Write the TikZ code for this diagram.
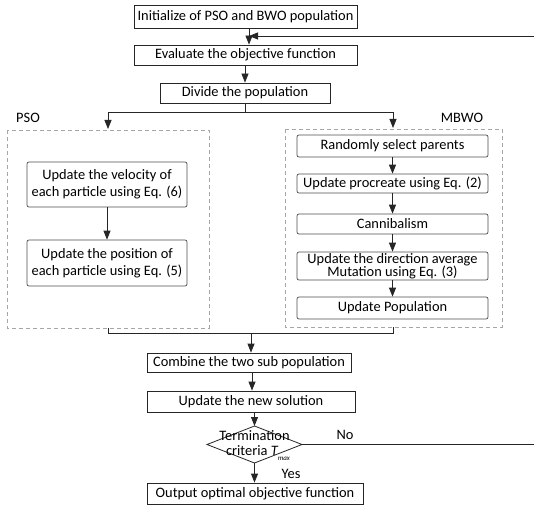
\documentclass[tikz,border=0pt]{standalone}
\usepackage{fontspec}
\setmainfont{Carlito}
\usetikzlibrary{arrows.meta}
\begin{document}
\begin{tikzpicture}[x=1pt,y=-1pt,
  every node/.style={font=\fontsize{14.4}{17}\selectfont},
  box/.style={draw=black!85, line width=0.8pt, inner sep=0pt, align=center},
  rbox/.style={draw=black!70, line width=0.7pt, rounded corners=2pt, inner sep=0pt, align=center},
  grp/.style={draw=black!35, dashed, dash pattern=on 4pt off 3pt, line width=0.7pt},
  conn/.style={draw=black!85, line width=0.8pt},
  arr/.style={conn, -{Triangle[length=9pt,width=7pt]}},
  lbl/.style={inner sep=0pt}
]
\useasboundingbox (0,0) rectangle (534,505);
% main boxes
\node[box, minimum width=223pt, minimum height=23pt] (init) at (245.5,16.5) {Initialize of PSO and BWO population};
\node[box, minimum width=223pt, minimum height=20pt] (eval) at (245.5,55) {Evaluate the objective function};
\node[box, minimum width=170pt, minimum height=20pt] (div) at (245,93) {Divide the population};
% groups
\draw[grp] (7,130) rectangle (209,328);
\draw[grp] (285,129) rectangle (502,327);
\node[lbl] (psol) at (28,118) {PSO};
\node[lbl] (mbwol) at (462,118) {MBWO};
% PSO boxes
\node[rbox, minimum width=160pt, minimum height=45pt] (vel) at (107,184.5) {Update the velocity of\\each particle using Eq. (6)};
\node[rbox, minimum width=160pt, minimum height=46pt] (pos) at (107,263) {Update the position of\\each particle using Eq. (5)};
% MBWO boxes
\node[rbox, minimum width=191pt, minimum height=22pt] (rsp) at (392.5,146) {Randomly select parents};
\node[rbox, minimum width=191pt, minimum height=19pt] (upc) at (392.5,183.5) {Update procreate using Eq. (2)};
\node[rbox, minimum width=191pt, minimum height=20pt] (can) at (392.5,224) {Cannibalism};
\node[rbox, minimum width=191pt, minimum height=28pt] (dir) at (392.5,266) {Update the direction average\\[-4pt]Mutation using Eq. (3)};
\node[rbox, minimum width=191pt, minimum height=22pt] (upop) at (392.5,308) {Update Population};
% lower boxes
\node[box, minimum width=204pt, minimum height=19pt] (comb) at (249,362.5) {Combine the two sub population};
\node[box, minimum width=208pt, minimum height=21pt] (news) at (251,401.5) {Update the new solution};
\draw[conn, fill=white] (207,444.5) -- (254.5,426) -- (302,444.5) -- (254.5,463) -- cycle;
\node[lbl] (term1) at (254.5,436) {Termination};
\node[lbl] (term2) at (258,453) {criteria {\itshape T}\raisebox{-5pt}{\fontsize{7}{7}\selectfont\itshape max}};
\coordinate (dtop) at (254.5,426);
\coordinate (dbot) at (254.5,463);
\coordinate (dright) at (302,444.5);
\node[box, minimum width=216pt, minimum height=21pt] (out) at (255,493.5) {Output optimal objective function};
\node[lbl] (no) at (345,435) {No};
\node[lbl] (yes) at (291,474) {Yes};
% connectors
\coordinate (fbR) at (534,36);
\coordinate (fbL) at (249,36);
\coordinate (noR) at (534,444.5);
\draw[arr] (init.south -| 249,0) -- (eval.north -| 249,0);
\draw[arr] (fbR) -- (fbL);
\draw[arr] (eval.south -| 245,0) -- (div.north -| 245,0);
\coordinate (br) at (245,112);
\draw[conn] (div.south -| br) -- (br);
\draw[arr] (br) -| (108,129);
\draw[arr] (br) -| (393,128);
\draw[arr] (vel) -- (pos);
\draw[arr] (rsp) -- (upc);
\draw[arr] (upc) -- (can);
\draw[arr] (can) -- (dir);
\draw[arr] (dir) -- (upop);
\coordinate (jn) at (251,333);
\draw[conn] (108,328) |- (393,333) -- (393,327);
\draw[arr] (jn) -- (comb.north -| jn);
\draw[arr] (comb.south -| 252,0) -- (news.north -| 252,0);
\draw[arr] (news.south -| dtop) -- (dtop);
\draw[arr] (dbot) -- (out.north -| dbot);
\draw[conn] (dright) -- (noR);
\end{tikzpicture}
\end{document}
